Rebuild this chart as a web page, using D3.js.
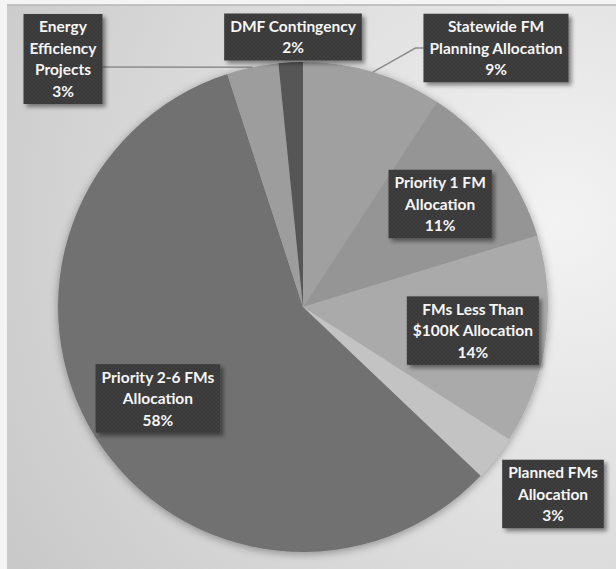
<!DOCTYPE html>
<html>
<head>
  <meta charset="utf-8">
  <title>FM Allocation Pie</title>
  <script src="https://cdn.jsdelivr.net/npm/d3@7"></script>
  <style>
    body { margin: 0; background: #f4f4f4; }
    .lbl text { font-family: Lato, "Open Sans", sans-serif; font-weight: 700; font-size: 15.5px; fill: #f6f6f6; }
    .leader { fill: none; stroke: #8c8c8c; stroke-width: 1.5px; }
  </style>
</head>
<body>
  <svg id="chart" width="616" height="569"></svg>

  <script>
    // categories (line breaks are where the label wraps)
    const categories = [
      "Statewide FM\nPlanning Allocation",
      "Priority 1 FM\nAllocation",
      "FMs Less Than\n$100K Allocation",
      "Planned FMs\nAllocation",
      "Priority 2-6 FMs\nAllocation",
      "Energy\nEfficiency\nProjects",
      "DMF Contingency"
    ];
    // share of the total, percent
    const values = [9.2, 11.1, 13.8, 3.0, 57.9, 3.4, 1.6];
    const sliceColors = ["#a0a0a0", "#959595", "#aaaaaa", "#c3c3c3", "#717171", "#9d9d9d", "#565656"];

    // labels placed outside the pie: offset of box centre from pie centre
    const outsideLabels = {
      0: { dx: 193, dy: -259, leader: "left" },
      3: { dx: 250, dy: 187, leader: null },
      5: { dx: -240, dy: -248, leader: "right" },
      6: { dx: -10, dy: -270, leader: null }
    };

    const svg = d3.select("#chart");
    const W = 616, H = 569;
    const cx = 303, cy = 307, radius = 245;

    const defs = svg.append("defs");

    const bg = defs.append("radialGradient")
      .attr("id", "bg").attr("gradientUnits", "userSpaceOnUse")
      .attr("cx", 560).attr("cy", 220).attr("r", 640);
    bg.append("stop").attr("offset", "0%").attr("stop-color", "#f3f3f3");
    bg.append("stop").attr("offset", "100%").attr("stop-color", "#c9c9c9");

    const pat = defs.append("pattern")
      .attr("id", "dots").attr("patternUnits", "userSpaceOnUse")
      .attr("width", 4).attr("height", 4);
    pat.append("rect").attr("width", 4).attr("height", 4).attr("fill", "#393939");
    pat.append("rect").attr("width", 2).attr("height", 2).attr("fill", "#414141");
    pat.append("rect").attr("x", 2).attr("y", 2).attr("width", 2).attr("height", 2).attr("fill", "#414141");

    defs.append("filter").attr("id", "pieShadow")
      .attr("x", "-10%").attr("y", "-10%").attr("width", "120%").attr("height", "120%")
      .append("feDropShadow")
      .attr("dx", 0).attr("dy", 2).attr("stdDeviation", 4)
      .attr("flood-color", "#000").attr("flood-opacity", 0.35);

    defs.append("filter").attr("id", "boxShadow")
      .attr("x", "-20%").attr("y", "-20%").attr("width", "150%").attr("height", "150%")
      .append("feDropShadow")
      .attr("dx", 3).attr("dy", 3).attr("stdDeviation", 2)
      .attr("flood-color", "#000").attr("flood-opacity", 0.45);

    // chart area
    svg.append("rect").attr("width", W).attr("height", H).attr("fill", "#f4f4f4");
    svg.append("rect").attr("x", 7).attr("y", 5).attr("width", W - 7).attr("height", H - 5)
      .attr("fill", "url(#bg)");
    svg.append("line").attr("x1", 7).attr("x2", W).attr("y1", 5).attr("y2", 5)
      .attr("stroke", "#b5b5b5").attr("stroke-width", 1.5);

    const data = categories.map((c, i) => ({ name: c, value: values[i], color: sliceColors[i], i }));
    const pie = d3.pie().sort(null).value(d => d.value);
    const arcs = pie(data);
    const arc = d3.arc().innerRadius(0).outerRadius(radius);
    const labelArc = d3.arc().innerRadius(radius * 0.7).outerRadius(radius * 0.7);

    const g = svg.append("g").attr("transform", `translate(${cx},${cy})`);

    g.append("g").attr("filter", "url(#pieShadow)")
      .selectAll("path")
      .data(arcs)
      .join("path")
      .attr("d", arc)
      .attr("fill", d => d.data.color);

    // label boxes
    const total = d3.sum(values);
    const lineH = 21.5;

    const lbl = g.selectAll(".lbl")
      .data(arcs)
      .join("g")
      .attr("class", "lbl");

    lbl.each(function (d) {
      const sel = d3.select(this);
      const lines = d.data.name.split("\n").concat([Math.round(d.data.value / total * 100) + "%"]);
      const out = outsideLabels[d.data.i];
      const [px, py] = out ? [out.dx, out.dy] : labelArc.centroid(d);

      const box = sel.append("rect").attr("fill", "url(#dots)").attr("filter", "url(#boxShadow)");
      const txt = sel.append("text").attr("text-anchor", "middle");
      lines.forEach((t, k) => {
        txt.append("tspan")
          .attr("x", px)
          .attr("y", py + (k - (lines.length - 1) / 2) * lineH)
          .attr("dy", "0.36em")
          .text(t);
      });
      const bw = d3.max(txt.selectAll("tspan").nodes(), n => n.getComputedTextLength()) + 12;
      const bh = lines.length * lineH + 4;
      box.attr("x", px - bw / 2).attr("y", py - bh / 2).attr("width", bw).attr("height", bh);

      if (out && out.leader) {
        const mid = (d.startAngle + d.endAngle) / 2;
        const ex = Math.sin(mid) * radius, ey = -Math.cos(mid) * radius;
        let pts;
        if (out.leader === "left") {
          const bx = px - bw / 2;
          pts = [[ex, ey], [bx - 8, py], [bx, py]];
        } else {
          const bx = px + bw / 2;
          pts = [[ex, ey], [bx, py + 8]];
        }
        g.insert("path", ".lbl").attr("class", "leader").attr("d", d3.line()(pts));
      }
    });
  </script>
</body>
</html>
